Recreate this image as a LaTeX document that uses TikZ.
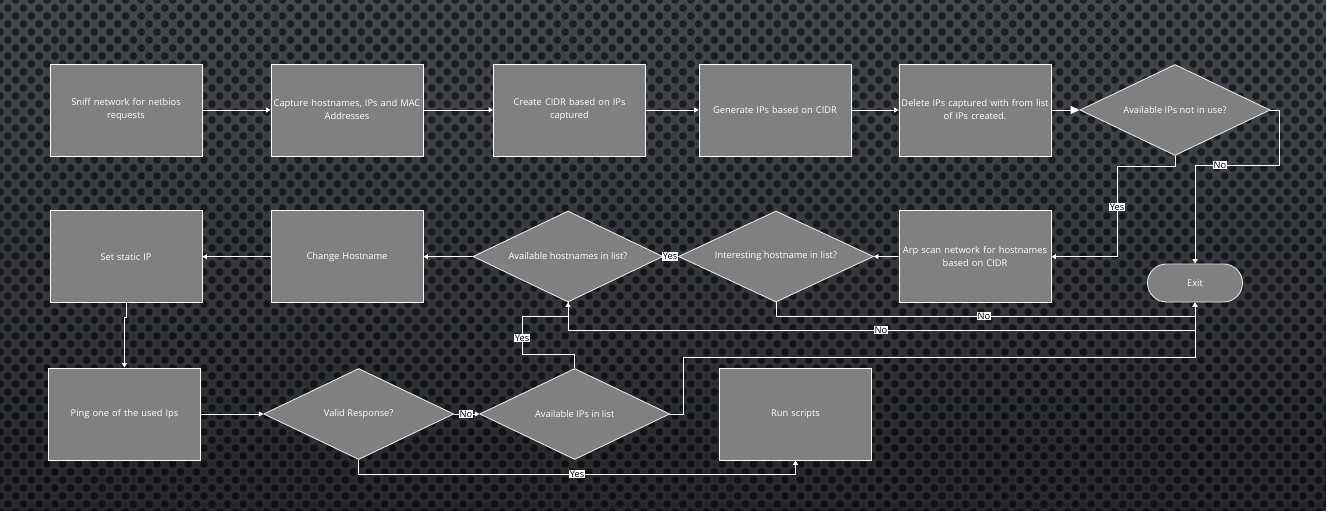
\documentclass[tikz,border=0pt]{standalone}
\usepackage{fontspec}
\setmainfont{Open Sans}
\usetikzlibrary{shapes.geometric,arrows.meta}
\definecolor{boxgray}{HTML}{808080}
\definecolor{bgtop}{HTML}{45484D}
\definecolor{bgbot}{HTML}{25272B}
\tikzset{
  procbox/.style={rectangle, draw=white, line width=0.9pt, fill=boxgray,
    minimum width=152pt, minimum height=92pt, text width=150pt, inner sep=1pt,
    align=center, text=white, font=\fontsize{9.3}{13}\selectfont},
  decbox/.style={diamond, draw=white!90!black, line width=0.9pt, fill=boxgray,
    minimum width=190pt, minimum height=91pt, inner sep=0pt, aspect=2.1,
    text=white, font=\fontsize{9.3}{13}\selectfont},
  termbox/.style={rectangle, rounded corners=19pt, draw=white!90!black, line width=0.9pt,
    fill=boxgray, minimum width=95pt, minimum height=38pt, text=white,
    font=\fontsize{9.3}{13}\selectfont},
  conn/.style={draw=white, line width=0.9pt, -{Triangle[width=5pt,length=4.5pt]}},
  bigconn/.style={draw=white, line width=0.9pt, -{Triangle[width=8pt,length=9pt]}},
  lbl/.style={fill=white, text=black, inner xsep=0.6pt, inner ysep=1pt,
    font=\fontsize{9.3}{10}\selectfont}
}
\begin{document}
\begin{tikzpicture}[x=1pt,y=-1pt]
\useasboundingbox (0,0) rectangle (1326,511);
% background
\shade[top color=bgtop, bottom color=bgbot] (0,0) rectangle (1326,511);
\foreach \j in {0,...,64} {
  \pgfmathsetmacro{\off}{mod(\j,2)*7.85}
  \fill[black,opacity=0.58]
    foreach \i in {0,...,85} { ({\i*15.7+\off},{\j*8}) circle (3.8pt) };
}

% row 1
\node[procbox] (b1) at (126,110) {Sniff network for netbios\\requests};
\node[procbox] (b2) at (347,110) {Capture hostnames, IPs and MAC\\Addresses};
\node[procbox] (b3) at (569.5,110) {Create CIDR based on IPs\\captured};
\node[procbox] (b4) at (775,110) {Generate IPs based on CIDR};
\node[procbox] (b5) at (975,110) {Delete IPs captured with from list\\of IPs created.};
\node[decbox] (d1) at (1175,110) {Available IPs not in use?};

% row 2
\node[procbox] (arp) at (975,256.7) {Arp scan network for hostnames\\based on CIDR};
\node[termbox] (exit) at (1195,283) {Exit};
\node[decbox, minimum width=195pt] (int) at (776,256.5) {Interesting hostname in list?};
\node[decbox] (avh) at (568,256.5) {Available hostnames in list?};
\node[procbox] (ch) at (347,256.7) {Change Hostname};
\node[procbox] (ssip) at (126,256.7) {Set static IP};

% row 3
\node[procbox] (ping) at (124.5,414) {Ping one of the used Ips};
\node[decbox] (vr) at (358.7,414) {Valid Response?};
\node[decbox] (aip) at (574.7,414) {Available IPs in list};
\node[procbox] (rs) at (795.5,414) {Run scripts};

% helper coordinates
\coordinate (yc) at (1117,166);
\coordinate (d1r) at (1279,165);
\coordinate (ya) at (522,354);
\coordinate (yb) at (522,316);
\coordinate (na) at (568,330);
\coordinate (nb) at (776,316);
\coordinate (nc) at (683,357);
\coordinate (vy) at (795.5,474);

% connectors
\draw[conn] (b1.east) -- (b2.west);
\draw[conn] (b2.east) -- (b3.west);
\draw[conn] (b3.east) -- (b4.west);
\draw[conn] (b4.east) -- (b5.west);
\draw[bigconn] (b5.east) -- (d1.west);
\draw[conn] (d1.south) |- (yc) |- (arp.east);
\draw[conn] (d1.east) -| (d1r) -| (exit.north);
\draw[conn] (arp.west) -- (int.east);
\draw[conn] (int.west) -- (avh.east);
\draw[conn] (avh.west) -- (ch.east);
\draw[conn] (ch.west) -- (ssip.east);
\draw[conn] (ssip.south) -- ++(0,14) -| (ping.north);
\draw[conn] (ping.east) -- (vr.west);
\draw[conn] (vr.east) -- (aip.west);
\draw[conn] (vr.south) |- (vy) -- (rs.south);
\draw[conn] (aip.north) |- (ya) -- (yb) -| (avh.south);
\draw[conn] (avh.south) -- (na) -| (exit.south);
\draw[conn] (int.south) -- (nb) -| (exit.south);
\draw[conn] (aip.east) -| (nc) -| (exit.south);

% labels
\node[lbl] (l1) at (1117,207) {Yes};
\node[lbl] (l2) at (1220,165) {No};
\node[lbl] (l3) at (670,256.5) {Yes};
\node[lbl] (l4) at (984,316) {No};
\node[lbl] (l5) at (881,330) {No};
\node[lbl] (l6) at (522,338) {Yes};
\node[lbl] (l7) at (466,414) {No};
\node[lbl] (l8) at (577,474) {Yes};
\end{tikzpicture}
\end{document}
